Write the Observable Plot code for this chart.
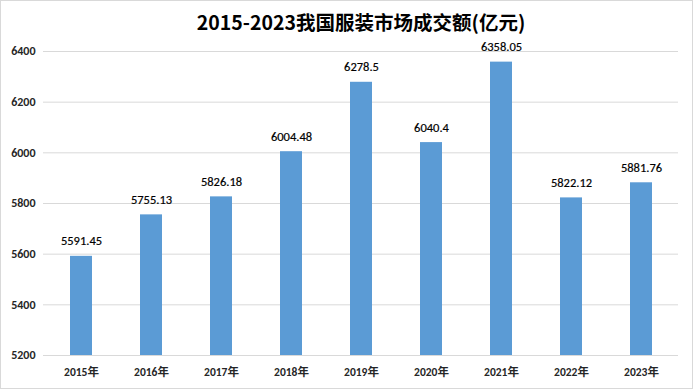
<!DOCTYPE html>
<html><head><meta charset="utf-8">
<script src="https://cdn.jsdelivr.net/npm/d3@7"></script>
<script src="https://cdn.jsdelivr.net/npm/@observablehq/plot@0.6"></script>
<style>
body{margin:0;background:#fff;}
#chart svg{outline:1px solid #d9d9d9;outline-offset:-1px;display:block;}
</style>
</head><body><div id="chart"></div>
<script>
const title = "2015-2023我国服装市场成交额(亿元)";
const years = ["2015年","2016年","2017年","2018年","2019年","2020年","2021年","2022年","2023年"];
const values = [5591.45,5755.13,5826.18,6004.48,6278.5,6040.4,6358.05,5822.12,5881.76];
const labels = ["5591.45","5755.13","5826.18","6004.48","6278.5","6040.4","6358.05","5822.12","5881.76"];
const yTicks = [5200,5400,5600,5800,6000,6200,6400];

const data = years.map((y,i)=>({year:y, value:values[i], label:labels[i]}));
const font = "Calibri, Carlito, 'Liberation Sans', 'Noto Sans CJK SC', sans-serif";

const chart = Plot.plot({
  width:693, height:389,
  marginTop:51, marginBottom:34, marginLeft:43, marginRight:15,
  style:{fontFamily:font, background:"#fff", color:"#262626"},
  x:{domain:years, paddingInner:0.69, paddingOuter:0.345, label:null, tickSize:0},
  y:{domain:[5200,6400], ticks:yTicks, label:null, tickSize:0},
  marks:[
    Plot.gridY(yTicks,{stroke:"#d9d9d9", strokeOpacity:1}),
    Plot.barY(data,{x:"year", y1:5200, y2:"value", fill:"#5b9bd5"}),
    Plot.text(data,{x:"year", y:"value", text:"label", dy:-15, fontSize:12.5, fill:"#000", stroke:"#000", strokeWidth:0.2}),
    Plot.axisY(yTicks,{tickSize:0, tickPadding:0, dx:-8, fontSize:12, fontWeight:"bold", fill:"#262626", tickFormat:d=>String(d)}),
    Plot.axisX({tickSize:0, tickPadding:12, fontSize:11.5, fontWeight:"bold", fill:"#262626"}),
    Plot.text([title],{frameAnchor:"top", lineAnchor:"middle", dy:-28, fontSize:19.5, fontWeight:"bold", fill:"#000", fontFamily:"'Noto Sans CJK SC', sans-serif"})
  ]
});
document.getElementById("chart").append(chart);
</script>
</body></html>
